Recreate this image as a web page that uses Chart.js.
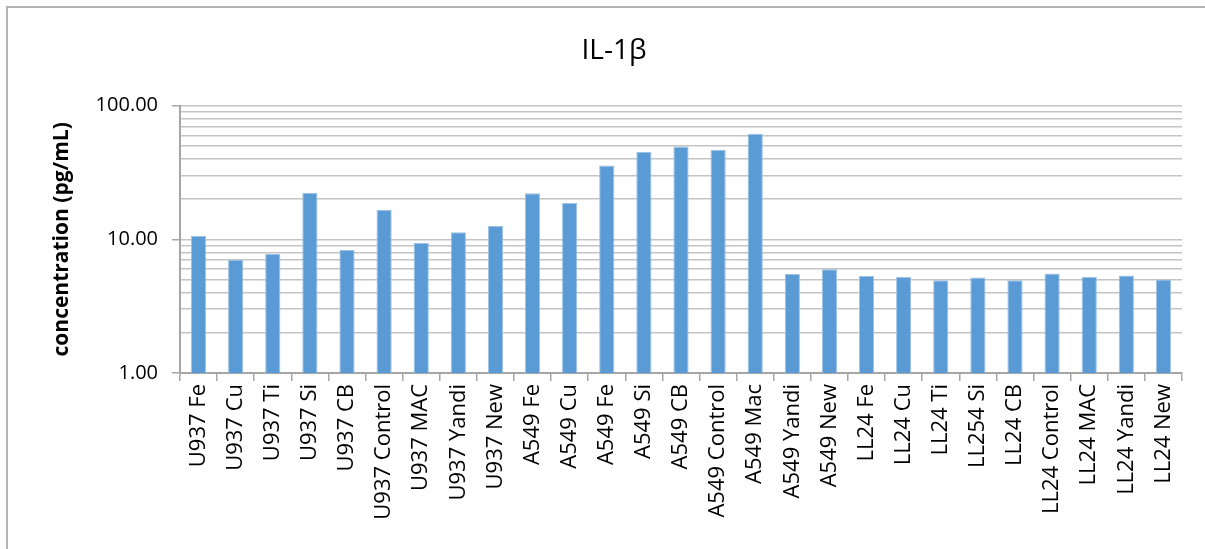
<!DOCTYPE html>
<html>
<head>
<meta charset="utf-8">
<script src="https://cdn.jsdelivr.net/npm/chart.js@4"></script>
<style>
  html, body { margin:0; padding:0; background:#fff; }
  #wrap { position:relative; width:1205px; height:549px; }
</style>
</head>
<body>
<div id="wrap"><canvas id="chart-il1b" width="1205" height="549"></canvas></div>
<script>
// ══════════════ IL-1β ══════════════
const CATEGORIES = [
  'U937 Fe','U937 Cu','U937 Ti','U937 Si','U937 CB','U937 Control','U937 MAC','U937 Yandi','U937 New',
  'A549 Fe','A549 Cu','A549 Fe','A549 Si','A549 CB','A549 Control','A549 Mac','A549 Yandi','A549 New',
  'LL24 Fe','LL24 Cu','LL24 Ti','LL254 Si','LL24 CB','LL24 Control','LL24 MAC','LL24 Yandi','LL24 New'
];
const CONCENTRATION = [
  10.65, 7.04, 7.76, 22.3, 8.32, 16.6, 9.39, 11.28, 12.6,
  22.1, 18.7, 35.7, 44.9, 49.5, 46.8, 61.7, 5.5, 5.96,
  5.31, 5.22, 4.93, 5.19, 4.95, 5.56, 5.22, 5.37, 5.01
];
const Y_MAJOR = [1, 10, 100];

const FONT = "'Open Sans', 'Noto Sans', sans-serif";
const BAR = '#5b9bd5';
const GRID = '#c4c4c4';
const AXIS = '#a6a6a6';

// grid steps 1..9 inside each decade, labels only on the majors
function logTicks(){
  const out = [];
  for(let i=0;i<Y_MAJOR.length;i++){
    const base = Y_MAJOR[i];
    if(i===Y_MAJOR.length-1){ out.push({ value: base, major: true }); break; }
    for(let k=1;k<10;k++) out.push({ value: base*k, major: k===1 });
  }
  return out;
}

// grey frame round the chart (top + left edge)
const frame = {
  id: 'frame',
  beforeDraw(chart){
    const c = chart.ctx;
    c.save();
    c.strokeStyle = '#b4b4b4';
    c.lineWidth = 2;
    c.beginPath();
    c.moveTo(7, 549); c.lineTo(7, 7); c.lineTo(1205, 7);
    c.stroke();
    c.restore();
  }
};

new Chart(document.getElementById('chart-il1b'), {
  type: 'bar',
  data: {
    labels: CATEGORIES,
    datasets: [{
      label: 'IL-1β',
      data: CONCENTRATION,
      backgroundColor: BAR,
      borderColor: '#9cc2e6',
      borderWidth: { top:1, left:1, right:1, bottom:0 },
      barPercentage: 0.41,
      categoryPercentage: 1
    }]
  },
  options: {
    responsive: false,
    animation: false,
    devicePixelRatio: 1,
    layout: { padding: { left:46, right:23, top:0, bottom:0 } },
    plugins: {
      legend: { display:false },
      tooltip: { enabled:false },
      title: {
        display: true,
        text: 'IL-1β',
        color: '#000',
        font: { family: FONT, size: 28, weight: 'normal' },
        padding: { top: 34, bottom: 38 }
      }
    },
    scales: {
      x: {
        grid: {
          offset: true,
          drawOnChartArea: false,
          color: AXIS,
          tickLength: 8,
          lineWidth: 1.5
        },
        border: { color: AXIS, width: 2 },
        ticks: {
          color: '#000',
          font: { family: FONT, size: 22 },
          minRotation: 90, maxRotation: 90,
          autoSkip: false,
          padding: 3
        },
        afterFit(scale){ scale.height = 176; }
      },
      y: {
        type: 'logarithmic',
        min: 1, max: 100,
        afterBuildTicks(scale){ scale.ticks = logTicks(); },
        grid: {
          color: GRID,
          lineWidth: 1.5,
          tickLength: 8,
          tickColor: ctx => (ctx.tick && ctx.tick.major) ? AXIS : 'rgba(0,0,0,0)'
        },
        border: { color: AXIS, width: 2 },
        ticks: {
          color: '#000',
          font: { family: FONT, size: 20 },
          padding: 14,
          autoSkip: false,
          callback: (v) => Y_MAJOR.includes(v) ? v.toFixed(2) : ''
        },
        title: {
          display: true,
          text: 'concentration (pg/mL)',
          color: '#000',
          font: { family: FONT, size: 21, weight: 'bold' },
          padding: { top: 3, bottom: 0 }
        },
        afterFit(scale){ scale.width = 134; }
      }
    }
  },
  plugins: [frame]
});
</script>
</body>
</html>
